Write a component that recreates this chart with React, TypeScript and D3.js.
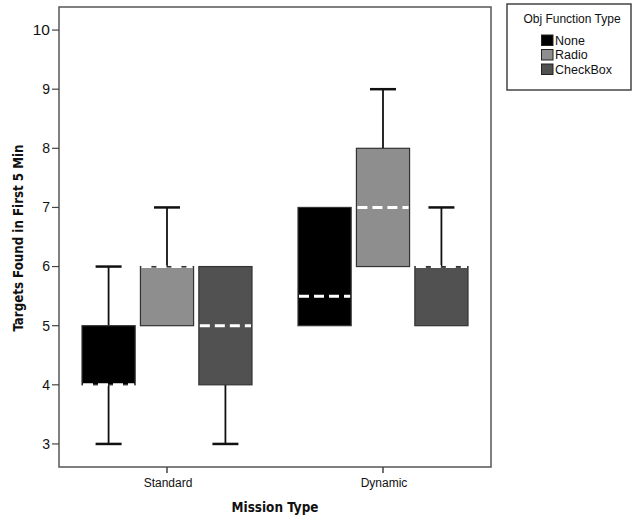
import React from 'react';
import * as d3 from 'd3';

const missions = ['Standard', 'Dynamic'];
const groups = ['None', 'Radio', 'CheckBox'];
const groupColors = ['#000000', '#8e8e8e', '#515151'];

// [min, q1, median, q3, max] per mission, per group
const standardStats = [
    [3, 4, 4, 5, 6],
    [5, 5, 6, 6, 7],
    [3, 4, 5, 6, 6],
];
const dynamicStats = [
    [5, 5, 5.5, 7, 7],
    [6, 6, 7, 8, 9],
    [5, 5, 6, 6, 7],
];
const yTicks = [3, 4, 5, 6, 7, 8, 9, 10];

const W = 632;
const H = 517;
const plot = { left: 59, right: 491, top: 7, bottom: 467 };

const App: React.FC = () => {
    const x = d3.scaleBand<string>().domain(missions).range([plot.left, plot.right]);
    const inner = d3.scaleBand<string>().domain(groups).range([0, 170]).paddingInner(0.09);
    const y = d3.scaleLinear().domain([2.61, 10.39]).range([plot.bottom, plot.top]);

    const allStats = [standardStats, dynamicStats];

    return (
        <svg width={W} height={H} style={{ position: 'absolute', left: 0, top: 0, fontFamily: 'Liberation Sans, Arial, sans-serif' }}>
            <rect x={0} y={0} width={W} height={H} fill="#fff" />
            <rect x={plot.left} y={plot.top} width={plot.right - plot.left} height={plot.bottom - plot.top}
                fill="none" stroke="#555" strokeWidth={1.5} />

            {/* y axis */}
            {yTicks.map(t => (
                <g key={t}>
                    <line x1={plot.left - 7} x2={plot.left} y1={y(t)} y2={y(t)} stroke="#444" strokeWidth={1.2} />
                    <text x={plot.left - 9} y={y(t)} dy="0.35em" textAnchor="end" fontSize={t === 10 ? 15.5 : 14} fill="#111">{t}</text>
                </g>
            ))}

            {/* x axis */}
            {missions.map(m => {
                const cx = x(m)! + x.bandwidth() / 2;
                return (
                    <g key={m}>
                        <line x1={cx} x2={cx} y1={plot.bottom} y2={plot.bottom + 6} stroke="#444" strokeWidth={1.5} />
                        <text x={cx + 1} y={plot.bottom + 20} textAnchor="middle" fontSize={12} fill="#111">{m}</text>
                    </g>
                );
            })}

            {/* boxes */}
            {missions.map((m, mi) => {
                const x0 = x(m)! + x.bandwidth() / 2 - 85;
                return allStats[mi].map((s, gi) => {
                    const [mn, q1, med, q3, mx] = s;
                    const bx = x0 + inner(groups[gi])!;
                    const bw = inner.bandwidth();
                    const cx = bx + bw / 2;
                    const capW = 26;
                    return (
                        <g key={`${m}-${gi}`}>
                            {mx > q3 && (
                                <>
                                    <line x1={cx} x2={cx} y1={y(mx)} y2={y(q3)} stroke="#111" strokeWidth={1.8} />
                                    <line x1={cx - capW / 2} x2={cx + capW / 2} y1={y(mx)} y2={y(mx)} stroke="#111" strokeWidth={2.5} />
                                </>
                            )}
                            {mn < q1 && (
                                <>
                                    <line x1={cx} x2={cx} y1={y(q1)} y2={y(mn)} stroke="#111" strokeWidth={1.8} />
                                    <line x1={cx - capW / 2} x2={cx + capW / 2} y1={y(mn)} y2={y(mn)} stroke="#111" strokeWidth={2.5} />
                                </>
                            )}
                            <rect x={bx} y={y(q3)} width={bw} height={y(q1) - y(q3)}
                                fill={groupColors[gi]} stroke="#333" strokeWidth={1.2} />
                            <line x1={bx + 1} x2={bx + bw - 1} y1={y(med)} y2={y(med)}
                                stroke="#fff" strokeWidth={3} strokeDasharray="10,5" />
                        </g>
                    );
                });
            })}

            {/* axis titles */}
            <text transform={`translate(23, 238) rotate(-90)`} textAnchor="middle" fontSize={13.2}
                fontWeight="bold" fontFamily="DejaVu Sans Condensed, DejaVu Sans, sans-serif" fill="#111">
                Targets Found in First 5 Min
            </text>
            <text x={275} y={512} textAnchor="middle" fontSize={13.4} fontWeight="bold"
                fontFamily="DejaVu Sans Condensed, DejaVu Sans, sans-serif" fill="#111">Mission Type</text>

            {/* legend */}
            <rect x={507} y={4} width={124} height={86} fill="#fff" stroke="#444" strokeWidth={1.5} />
            <text x={572} y={23} textAnchor="middle" fontSize={12} fill="#111">Obj Function Type</text>
            {groups.map((g, i) => (
                <g key={g}>
                    <rect x={541.5} y={35 + i * 14.5} width={11.5} height={10.5} fill={groupColors[i]} stroke="#222" strokeWidth={1} />
                    <text x={555} y={40.5 + i * 14.5} dy="0.35em" fontSize={12.5} fill="#111">{g}</text>
                </g>
            ))}
        </svg>
    );
};

export default App;
